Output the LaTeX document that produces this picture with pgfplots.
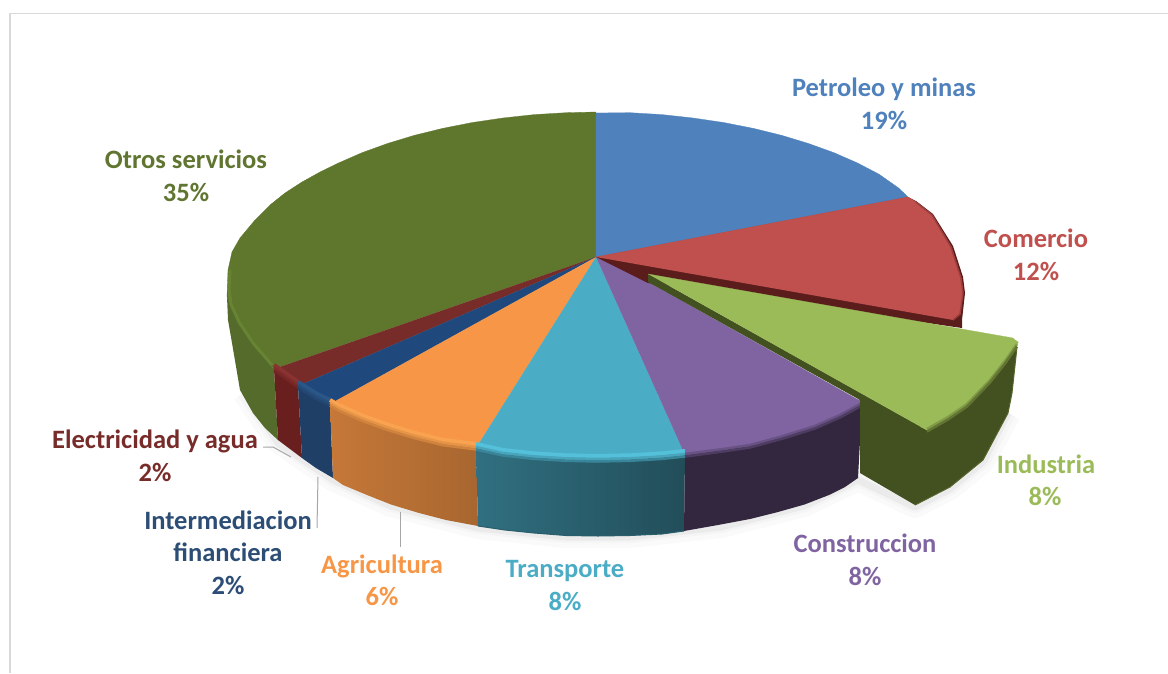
\documentclass[border=0pt]{standalone}
\usepackage{pgfplots}
\pgfplotsset{compat=1.18}
\usepackage{pgfplotstable}
\usepackage{fontspec}
\setmainfont{Carlito}
\definecolor{cBlue}{HTML}{4F81BD}
\definecolor{cRed}{HTML}{C0504D}
\definecolor{cRedS}{HTML}{5A1D1C}
\definecolor{cGreen}{HTML}{9BBB59}
\definecolor{cGreenS}{HTML}{43501F}
\definecolor{cPur}{HTML}{8064A2}
\definecolor{cPurS}{HTML}{33273F}
\definecolor{cTeal}{HTML}{4BACC6}
\definecolor{cTealH}{HTML}{55C0DA}
\definecolor{cTealS}{HTML}{2A6577}
\definecolor{cOra}{HTML}{F79646}
\definecolor{cOraH}{HTML}{F9A24F}
\definecolor{cOraS}{HTML}{B97333}
\definecolor{cNav}{HTML}{1F497D}
\definecolor{cNavH}{HTML}{2A5688}
\definecolor{cNavS}{HTML}{1F3F66}
\definecolor{cDR}{HTML}{772C2A}
\definecolor{cDRH}{HTML}{8A3331}
\definecolor{cDRS}{HTML}{6A1F1F}
\definecolor{cOli}{HTML}{5F762D}
\definecolor{cOliH}{HTML}{6A8A35}
\definecolor{cOliS}{HTML}{546B2B}
\definecolor{cNavT}{HTML}{2C4D75}
\definecolor{cOliT}{HTML}{5F7530}
\pgfplotstableread{
x y
862 404
840 416
815 427
783 437
750 446
723 450
693 454
685 455
}\rimPur
\pgfplotstableread{
x y
685 455
662 457.4
630 459.3
598 460
566 459.3
534 457.4
503 454
476 448
}\rimTeal
\pgfplotstableread{
x y
476 448
443 443.7
414.5 436.7
387.5 428.5
362 419.3
338.5 409
330 404
}\rimOra
\pgfplotstableread{
x y
330 404
317 397.8
298 386
}\rimNav
\pgfplotstableread{
x y
298 386
280 373
274 369
}\rimDR
\pgfplotstableread{
x y
1017 345
1005 362
990 381
967 405
948 418
927 430
}\rimGre
\newcommand\bevel[3]{%
  \addplot[draw=#2, line width=4pt] table[y expr=\thisrow{y}-4] {#1};
  \addplot[draw=#2!70!#3, line width=2.5pt] table[y expr=\thisrow{y}-1] {#1};
  \addplot[draw=#2!35!#3, line width=2.5pt] table[y expr=\thisrow{y}+1.5] {#1};
}
\newcommand\lab[3]{\node[font=\fontsize{26.5}{26.5}\selectfont\bfseries, text=#3, inner sep=0pt, anchor=base] at (axis cs:#1) {#2};}
\begin{document}
\begin{tikzpicture}
\path[use as bounding box] (0,0) rectangle (1168pt,673pt);
\begin{axis}[at={(0,0)}, anchor=south west, scale only axis, width=1168pt, height=673pt,
  xmin=0, xmax=1168, ymin=0, ymax=673, y dir=reverse, hide axis, clip=true]
% frame
\addplot[draw=black!15, line width=1.5pt] coordinates {(10,673) (10,13.5) (1168,13.5)};
% shadow
\addplot[draw=black!2, line width=26pt, line join=round] coordinates {(245,392) (278,440) (333,478) (391,504) (478,526) (566,535) (630,535) (721,525) (804,504) (858,478) (915,505) (950,487) (983,460) (1008,413)};
\addplot[draw=black!4, line width=16pt, line join=round] coordinates {(245,392) (278,440) (333,478) (391,504) (478,526) (566,535) (630,535) (721,525) (804,504) (858,478) (915,505) (950,487) (983,460) (1008,413)};
\addplot[draw=black!8, line width=7pt, line join=round] coordinates {(245,392) (278,443) (333,480) (391,506) (478,528) (566,537) (630,537) (721,527) (804,506) (858,480) (915,507) (950,489) (983,462) (1008,413)};
% sides
\addplot[fill=cOliS, draw=none] coordinates {(227,297) (228,320) (232,343) (240,390) (253,413) (265,428) (278,440) (274,369) (255,347) (240,325)};
\addplot[fill=cDRS, draw=none] coordinates {(274,369) (280,373) (298,386) (302,458) (290,449) (278,440)};
\addplot[fill=cNavS, draw=none] coordinates {(298,386) (317,397.8) (330,404) (333,478) (316,468) (302,458)};
\addplot[left color=cOra!80!black, right color=cOra!68!black, draw=none] coordinates {(330,404) (338.5,409) (362,419.3) (387.5,428.5) (414.5,436.7) (443,443.7) (476,448) (478,526) (446,520) (418,512.7) (391,504.5) (367,495) (343,485) (333,478)};
\addplot[left color=cTeal!65!black, right color=cTeal!45!black, draw=none] coordinates {(476,448) (503,454) (534,457.4) (566,459.3) (598,460) (630,459.3) (662,457.4) (685,455) (684,531) (662,534) (630,535.5) (598,536) (566,535.5) (534,533) (505,530) (478,526)};
\addplot[fill=cPurS, draw=none] coordinates {(685,455) (693,454) (723,450) (750,446) (783,437) (815,427) (840,416) (862,404) (858,478) (845,487) (829,495) (804.5,504.5) (778,512) (750,519) (718,525) (684,531)};
% bottom edge darkening
\addplot[draw=black!45!cTeal, line width=1pt] coordinates {(478,526) (505,530) (534,533) (566,535.5) (598,536) (630,535.5) (662,534) (684,531)};
% faces
\addplot[fill=cOli, draw=cOli, line width=.3pt] coordinates {(596,257) (274,369) (255,347) (240,325) (230,306) (227,297) (228,270) (232,252) (240,238) (255,220) (270,205) (285,193) (302,182) (320,172) (338.5,163) (362,152.7) (387.5,143.5) (414.5,135.3) (443,128.3) (472.5,122.5) (503,118) (534.3,114.6) (566,112.7) (596,112)};
\addplot[draw=cOliH!70!cOli, line width=3pt] coordinates {(272,365) (253,343) (239,322) (231,304) (229,290) (230,270)};
\addplot[fill=cDR, draw=cDR, line width=.3pt] coordinates {(596,257) (298,386) (280,373) (274,369)};
\addplot[fill=cNav, draw=cNav, line width=.3pt] coordinates {(596,257) (330,404) (317,397.8) (298,386)};
\addplot[fill=cOra, draw=cOra, line width=.3pt] coordinates {(596,257) (476,448) (443,443.7) (414.5,436.7) (387.5,428.5) (362,419.3) (338.5,409) (330,404)};
\addplot[fill=cTeal, draw=cTeal, line width=.3pt] coordinates {(596,257) (685,455) (662,457.4) (630,459.3) (598,460) (566,459.3) (534,457.4) (503,454) (476,448)};
\addplot[fill=cPur, draw=cPur, line width=.3pt] coordinates {(596,257) (648,282) (862,402) (862,404) (840,416) (815,427) (783,437) (750,446) (723,450) (693,454) (685,455)};
% bevels
\bevel{\rimDR}{cDRH}{cDRS}
\bevel{\rimNav}{cNavH}{cNavS}
\bevel{\rimOra}{cOraH}{cOraS}
\bevel{\rimTeal}{cTealH}{cTealS}
\bevel{\rimPur}{cPur}{cPurS}
% blue
\addplot[fill=cBlue, draw=cBlue, line width=.3pt] coordinates {(596,257) (596,113) (630,112.7) (662,114.6) (693,118) (723.5,122.5) (753,128.3) (781.5,135.3) (808.5,143.5) (834,152.7) (857.5,163) (879,174.2) (898.6,188) (908,197)};
% red
\addplot[fill=cRedS, draw=none] coordinates {(596,257) (908,197) (916,201) (933,214) (953,246) (963,277) (965,293) (962,320) (962,328) (648,283)};
\addplot[fill=cRed, draw=cRed, line width=.3pt] coordinates {(596,257) (908,197) (916,202) (932,215) (951,247) (961,278) (963,293) (960,314) (953,320)};
\addplot[draw=cRed!65!cRedS, line width=1.5pt] coordinates {(916,202) (932,215) (951,247) (961,278) (963,293) (960,314) (953,320)};
% exploded slice
\addplot[fill=cGreenS, draw=none] coordinates {(648,274) (648,282) (860,400) (860,473) (915,505) (950,487) (983,460) (1008,413) (1012,393) (1017,347) (927,430)};
\addplot[draw=cGreenS!80!cGreen, line width=1pt] coordinates {(1017,347) (1012,393) (1008,413) (983,460) (950,487) (915,505)};
\addplot[fill=cGreen, draw=cGreen, line width=.3pt] coordinates {(648,274) (1013,338) (1017,342) (1017,345) (1005,362) (990,381) (967,405) (948,418) (927,430) (921,427)};
\bevel{\rimGre}{cGreen}{cGreenS}
% leader lines
\addplot[draw=black!35, line width=1pt] coordinates {(263,447) (273,447) (291,457)};
\addplot[draw=black!35, line width=1pt] coordinates {(318,477) (317,528)};
\addplot[draw=black!35, line width=1pt] coordinates {(400,512) (400,547)};
% labels
\lab{884,96.5}{Petroleo y minas}{cBlue}
\lab{884,129.5}{19\%}{cBlue}
\lab{1036,247.5}{Comercio}{cRed}
\lab{1036,280.5}{12\%}{cRed}
\lab{1046,473}{Industria}{cGreen}
\lab{1045,505.5}{8\%}{cGreen}
\lab{865,552.5}{Construccion}{cPur}
\lab{865,585.5}{8\%}{cPur}
\lab{565,577}{Transporte}{cTeal}
\lab{565,610.5}{8\%}{cTeal}
\lab{382,573}{Agricultura}{cOra}
\lab{382,605.5}{6\%}{cOra}
\lab{228,529.5}{Intermediacion}{cNavT}
\lab{228,561.5}{financiera}{cNavT}
\lab{228,594.5}{2\%}{cNavT}
\lab{155,448.5}{Electricidad y agua}{cDR}
\lab{155,481.5}{2\%}{cDR}
\lab{186,168}{Otros servicios}{cOliT}
\lab{186,201.5}{35\%}{cOliT}
\end{axis}
\end{tikzpicture}
\end{document}
